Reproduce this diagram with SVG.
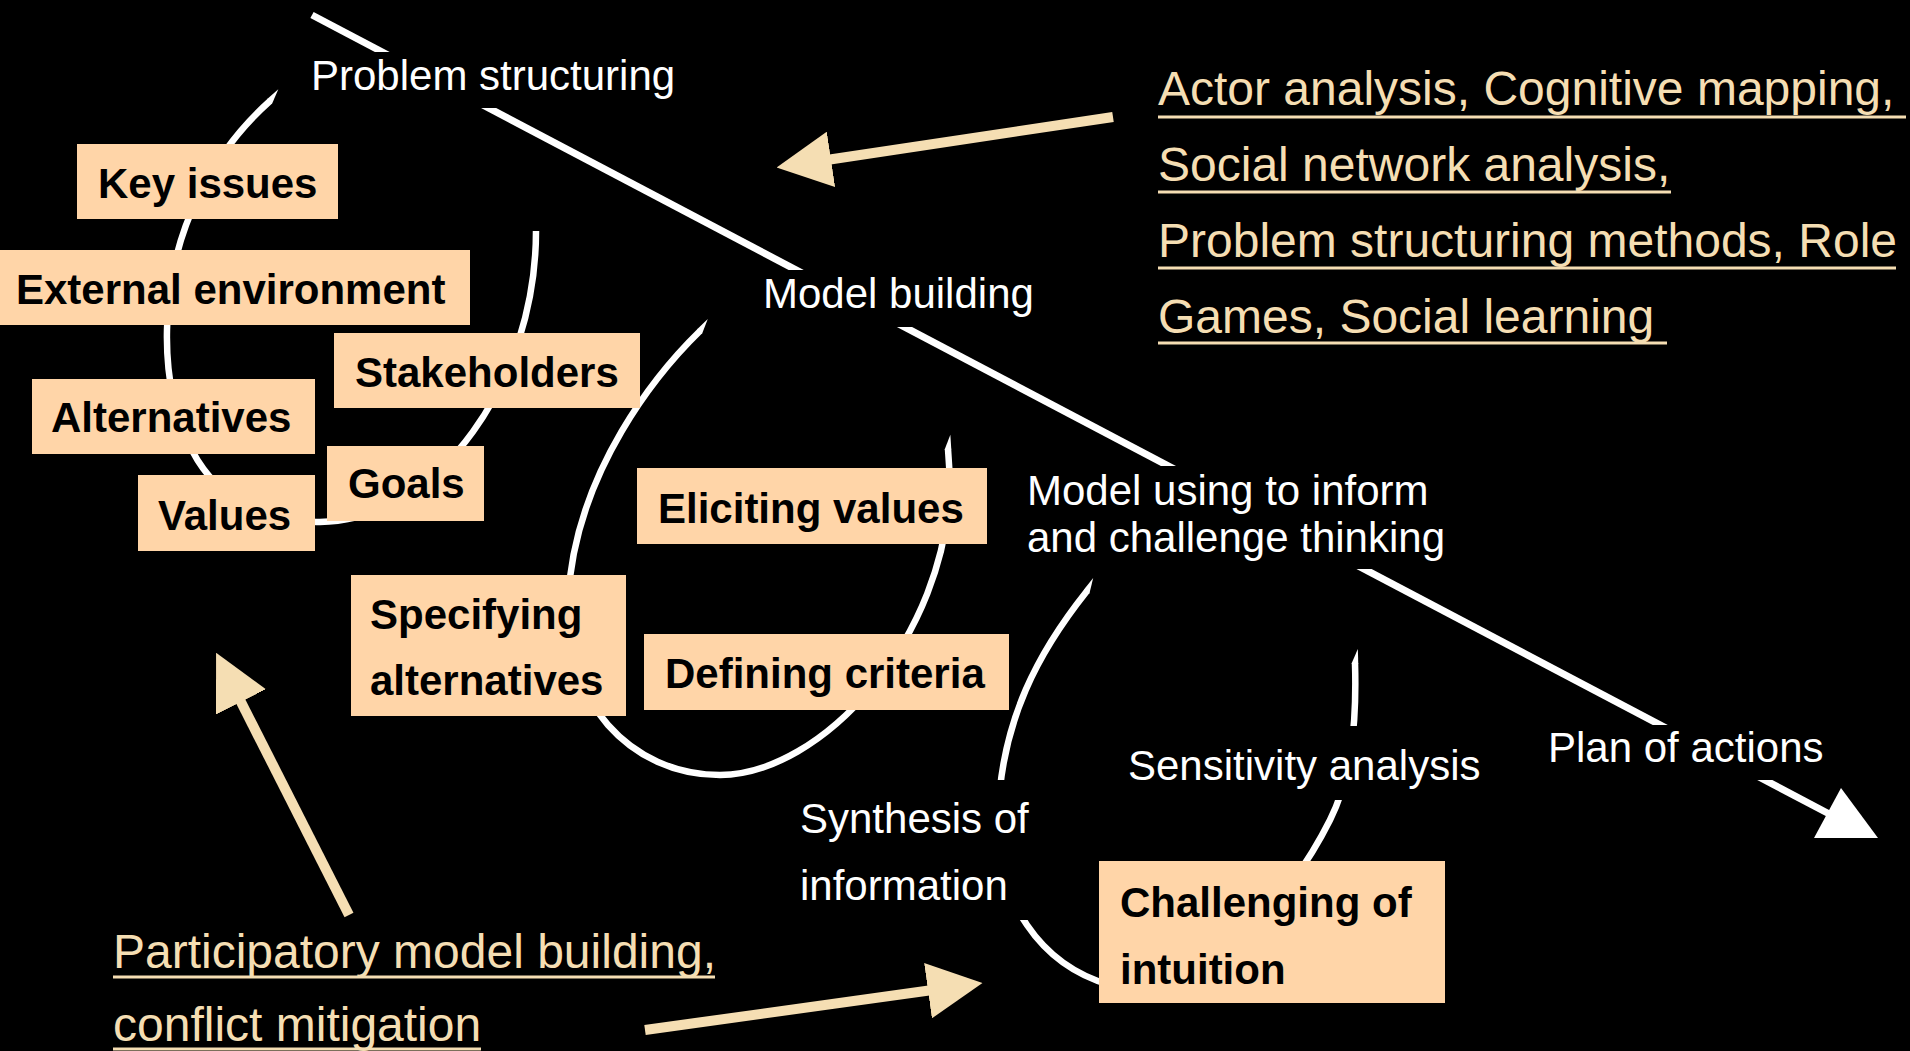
<svg xmlns="http://www.w3.org/2000/svg" width="1910" height="1051" viewBox="0 0 1910 1051">
<style>
.lbl{font-family:"Liberation Sans",Arial,sans-serif;font-size:42px;fill:#ffffff}
.bg{fill:#000000}
.box rect{fill:#FFD5A8}
.box text{font-family:"Liberation Sans",Arial,sans-serif;font-weight:bold;font-size:42px;fill:#000000}
.tan{font-family:"Liberation Sans",Arial,sans-serif;font-size:48px;fill:#F5DEB3}
.ul{stroke:#F5DEB3;stroke-width:3}
.loop{fill:none;stroke:#ffffff;stroke-width:6.5}
.flow{fill:none;stroke:#ffffff;stroke-width:7}
.tanarrow{fill:none;stroke:#F5DEB3;stroke-width:10;marker-end:url(#tanhead)}
</style>
<defs>
<marker id="tipL" markerUnits="userSpaceOnUse" viewBox="-1 -5 16 10" markerWidth="16" markerHeight="10" refX="0" refY="0" orient="auto-start-reverse">
<path d="M-0.8,-3.25 L14,-3.25 L0,3.25 L-0.8,3.25 Z" fill="#ffffff"/>
</marker>
<marker id="tipR" markerUnits="userSpaceOnUse" viewBox="-1 -5 16 10" markerWidth="16" markerHeight="10" refX="0" refY="0" orient="auto-start-reverse">
<path d="M-0.8,3.25 L14,3.25 L0,-3.25 L-0.8,-3.25 Z" fill="#ffffff"/>
</marker>
<marker id="tanhead" markerUnits="userSpaceOnUse" viewBox="0 0 55 56" markerWidth="55" markerHeight="56" refX="1" refY="28" orient="auto">
<path d="M0,0 L55,28 L0,56 Z" fill="#F5DEB3"/>
</marker>
</defs>
<rect x="0" y="0" width="1910" height="1051" fill="#000000"/>

<g id="connectors">
<line class="flow" x1="312" y1="15" x2="1835" y2="817"/>
<polygon points="1814,838 1878,838 1841,788" fill="#ffffff"/>
<path class="loop" d="M 536 231 C 536 380, 440 520, 320 522 C 200 524, 165 420, 167 330 C 168 230, 215 150, 270 101" marker-end="url(#tipL)"/>
<path class="loop" d="M 700 331 C 660 370, 575 470, 568 600 C 562 700, 630 775, 720 775 C 820 775, 948 640, 950 480 L 948 449" marker-start="url(#tipL)" marker-end="url(#tipR)"/>
<path class="loop" d="M 1087 591 C 1040 650, 1000 720, 998 820 C 996 900, 1040 965, 1110 985 C 1200 1010, 1290 900, 1330 820 C 1350 780, 1357 730, 1355 663" marker-start="url(#tipL)" marker-end="url(#tipR)"/>
<line class="tanarrow" x1="1113" y1="117" x2="830" y2="159.5"/>
<line class="tanarrow" x1="349" y1="915" x2="240.5" y2="701"/>
<line class="tanarrow" x1="645" y1="1030" x2="929" y2="990.5"/>
</g>

<g id="problem-structuring">
<rect class="bg" x="295" y="52" width="395" height="56"/>
<text class="lbl" x="311" y="90">Problem structuring</text>
</g>
<g id="model-building">
<rect class="bg" x="740" y="270" width="305" height="57"/>
<text class="lbl" x="763" y="308">Model building</text>
</g>
<g id="model-using">
<rect class="bg" x="1020" y="466" width="440" height="103"/>
<text class="lbl" x="1027" y="505">Model using to inform</text>
<text class="lbl" x="1027" y="552">and challenge thinking</text>
</g>
<g id="plan-of-actions">
<rect class="bg" x="1540" y="725" width="300" height="55"/>
<text class="lbl" x="1548" y="762">Plan of actions</text>
</g>
<g id="sensitivity-analysis">
<rect class="bg" x="1120" y="726" width="370" height="74"/>
<text class="lbl" x="1128" y="780">Sensitivity analysis</text>
</g>
<g id="synthesis">
<rect class="bg" x="790" y="780" width="255" height="140"/>
<text class="lbl" x="800" y="833">Synthesis of</text>
<text class="lbl" x="800" y="900">information</text>
</g>

<g id="key-issues" class="box">
<rect x="77" y="144" width="261" height="75"/>
<text x="98" y="198">Key issues</text>
</g>
<g id="external-environment" class="box">
<rect x="0" y="250" width="470" height="75"/>
<text x="16" y="304">External environment</text>
</g>
<g id="stakeholders" class="box">
<rect x="334" y="333" width="306" height="75"/>
<text x="355" y="387">Stakeholders</text>
</g>
<g id="alternatives" class="box">
<rect x="32" y="379" width="283" height="75"/>
<text x="51" y="432">Alternatives</text>
</g>
<g id="goals" class="box">
<rect x="327" y="446" width="157" height="75"/>
<text x="348" y="498">Goals</text>
</g>
<g id="values" class="box">
<rect x="138" y="475" width="177" height="76"/>
<text x="158" y="530">Values</text>
</g>
<g id="eliciting-values" class="box">
<rect x="637" y="468" width="350" height="76"/>
<text x="658" y="523">Eliciting values</text>
</g>
<g id="specifying-alternatives" class="box">
<rect x="351" y="575" width="275" height="141"/>
<text x="370" y="629">Specifying</text>
<text x="370" y="695">alternatives</text>
</g>
<g id="defining-criteria" class="box">
<rect x="644" y="634" width="365" height="76"/>
<text x="665" y="688">Defining criteria</text>
</g>
<g id="challenging-of-intuition" class="box">
<rect x="1099" y="861" width="346" height="142"/>
<text x="1120" y="917">Challenging of</text>
<text x="1120" y="984">intuition</text>
</g>

<g id="methods-top">
<text class="tan" x="1158" y="105">Actor analysis, Cognitive mapping,</text>
<text class="tan" x="1158" y="181">Social network analysis,</text>
<text class="tan" x="1158" y="257">Problem structuring methods, Role</text>
<text class="tan" x="1158" y="333">Games, Social learning</text>
<line class="ul" x1="1158" y1="117" x2="1906" y2="117"/>
<line class="ul" x1="1158" y1="192" x2="1671" y2="192"/>
<line class="ul" x1="1158" y1="268" x2="1896" y2="268"/>
<line class="ul" x1="1158" y1="343" x2="1667" y2="343"/>
</g>
<g id="methods-bottom">
<text class="tan" x="113" y="968">Participatory model building,</text>
<text class="tan" x="113" y="1041">conflict mitigation</text>
<line class="ul" x1="113" y1="977" x2="715" y2="977"/>
<line class="ul" x1="113" y1="1049" x2="481" y2="1049"/>
</g>
</svg>
